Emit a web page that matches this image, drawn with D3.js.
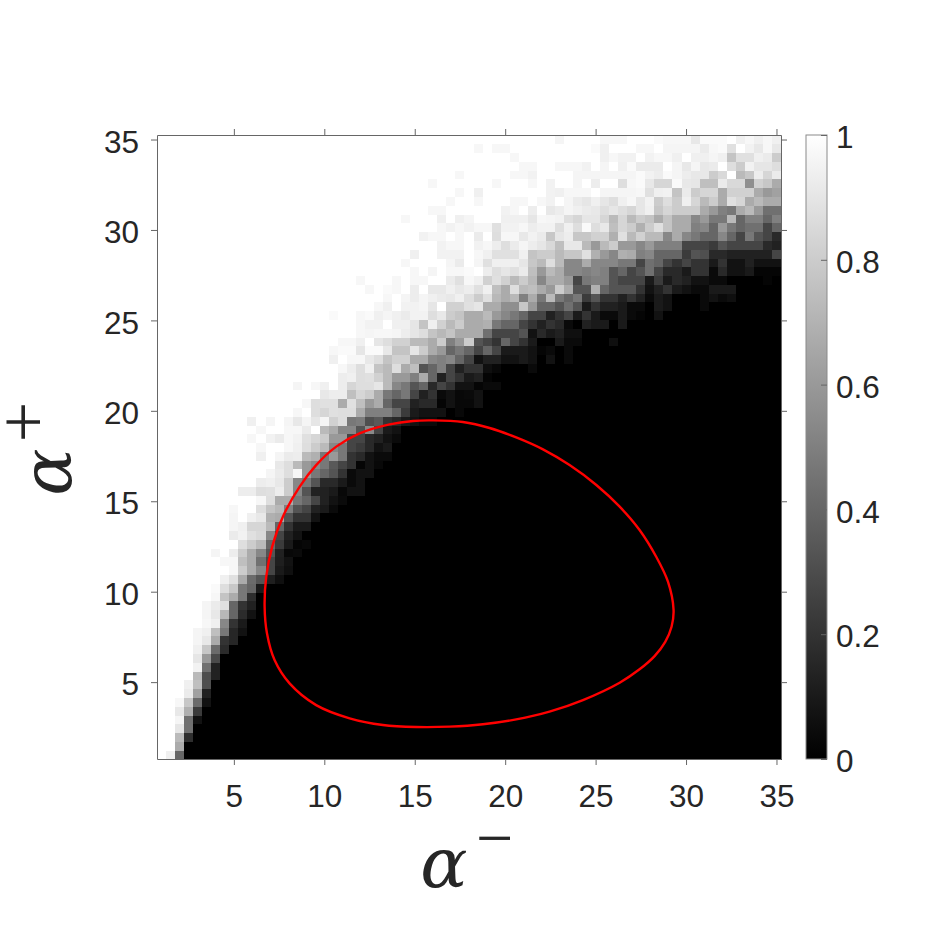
<!DOCTYPE html>
<html>
<head>
<meta charset="utf-8">
<script src="https://cdn.jsdelivr.net/npm/d3@7"></script>
<style>
  html, body { margin: 0; background: #fff; }
  text { font-family: "Liberation Sans", Arial, sans-serif; fill: #262626; }
  .symbol { font-family: "Liberation Serif", serif; }
  .alpha { font-family: "DejaVu Serif", serif; font-style: italic; }
</style>
</head>
<body>
<div id="chart"></div>
<script>
// the image has 69 columns and 71 rows stretched over the same alpha range
const colCount = 69;
const xTicks = [5,10,15,20,25,30,35];
const yTicks = [5,10,15,20,25,30,35];
const barTicks = [0,0.2,0.4,0.6,0.8,1];
const barLabels = ["0","0.2","0.4","0.6","0.8","1"];

// one line per row, bottom row first. cells left of rowStart are 100, cells after the list are 0
const rowStart = [1,2,2,2,2,2,2,3,3,4,4,4,4,4,4,5,5,5,6,6,7,8,7,6,9,8,8,8,8,11,9,11,12,13,11,11,10,11,10,15,16,18,15,19,20,19,19,20,22,22,19,24,25,23,22,28,27,28,31,29,31,27,30,32,33,30,33,40,39,35,44];
const rowPercent = [
  [94,40],
  [67],
  [73,18],
  [90,44],
  [96,44,7],
  [91,69,23],
  [97,78,42,7],
  [92,63,13],
  [94,75,31],
  [73,30,13],
  [95,44,13],
  [90,60,29],
  [94,78,42,17],
  [96,91,67,20,15],
  [96,94,75,47,15,7],
  [97,94,53,20,10],
  [96,91,72,40,17,7],
  [96,92,88,40,20,13],
  [97,77,67,47,18],
  [98,87,78,47,40,10],
  [94,88,67,42,33,12,6],
  [97,80,67,53,27,10,6],
  [97,97,75,67,44,27,12,7],
  [96,100,93,80,67,53,33,13,3,4],
  [87,80,73,40,23,10,2,3],
  [92,95,88,85,53,27,13,7],
  [96,94,84,84,73,40,20,10,10],
  [96,100,94,91,69,67,33,20,20,7],
  [97,100,100,87,77,72,50,33,27,13,10,4],
  [97,87,67,67,47,40,27,13,7,4],
  [93,93,87,88,93,80,53,33,13,13,10,3,7,7],
  [93,94,91,80,53,47,33,16,16,10,4,7],
  [96,92,87,97,60,47,40,33,20,4,7,7],
  [91,87,73,60,54,47,35,27,20,2,7,3],
  [94,100,96,92,93,73,69,47,60,47,20,16,7,4,4],
  [97,100,100,97,94,87,80,73,53,47,27,23,16,7,10],
  [97,100,95,92,97,95,88,84,80,60,60,27,27,16,13,7,4],
  [97,100,100,97,97,92,100,73,67,53,53,33,54,27,10,7],
  [94,100,96,100,96,91,96,90,96,82,87,47,49,31,35,20,16,10,7,4,4],
  [97,100,87,84,88,87,87,67,50,50,50,40,23,10,7,7,7,0,3],
  [97,87,88,88,67,88,75,60,67,40,27,27,13,16,16,2,7,3,3,7],
  [91,93,93,75,84,80,67,47,40,47,27,13,20,4,7,3,4,7],
  [96,100,97,94,100,93,84,87,87,90,73,53,47,33,40,16,27,20,7,7,2,4,4],
  [100,93,94,87,88,82,73,60,60,50,67,40,13,27,20,10,13,2],
  [97,93,87,94,77,73,87,67,75,33,40,50,27,13,20,20,6,3,0,0,0,4],
  [94,100,97,97,91,87,77,82,82,67,67,53,50,53,40,27,7,13,13,7,7,10,7,0,7,0,4],
  [97,98,98,90,98,98,91,77,77,90,80,67,60,40,47,40,27,40,27,10,10,10,7,2,4,0,4],
  [97,97,94,100,90,87,82,82,73,73,67,80,50,60,80,33,27,20,40,27,20,10,0,0,10,4,4,0,0,0,6],
  [97,96,97,97,96,93,90,87,77,72,77,67,67,67,44,27,27,27,33,7,16,10,13,6,6],
  [97,95,95,100,94,94,90,77,94,82,73,80,67,67,69,47,40,40,27,20,13,20,16,4,0,13,10,10,0,10],
  [98,100,100,97,98,94,96,94,92,95,95,87,91,80,77,67,67,73,60,53,47,40,27,27,13,20,27,10,20,10,4,4,10,4,2,0,7],
  [97,94,100,95,95,96,90,100,82,82,88,90,67,67,56,56,78,60,40,40,33,44,33,10,20,13,13,10,4,4,0,10,7,0,0,0,4],
  [97,100,96,93,96,94,92,91,94,87,80,88,72,67,72,50,67,47,73,47,40,47,23,33,20,20,13,20,13,4,10,7,0,0,0,4,7,4,6],
  [97,100,98,97,100,93,100,91,91,94,91,93,88,94,75,67,87,73,75,67,60,80,67,33,33,69,40,33,33,33,20,7,13,20,10,7,4,4,10,10,10],
  [97,100,100,100,97,100,97,97,100,100,92,88,97,94,82,88,82,73,80,72,53,67,67,60,27,47,50,50,33,27,27,27,10,23,10,16,13,7,7,4,4,0,0,0,0,2,0],
  [97,100,96,100,97,97,98,100,93,87,90,88,92,75,60,73,67,53,53,50,53,50,33,40,27,33,44,27,16,16,10,20,20,4,16,7,7,10,2,2,2],
  [97,100,100,100,100,96,92,100,96,88,94,94,94,90,78,73,87,73,53,53,67,53,53,53,47,47,27,44,40,27,20,27,20,20,10,20,7,7,13,7,7,7],
  [94,100,100,95,95,95,100,97,94,88,88,88,94,77,80,80,73,78,78,88,69,60,53,69,67,50,53,40,40,40,23,33,31,16,16,13,13,13,13,13,27],
  [95,97,97,100,95,97,93,87,92,96,93,90,85,75,91,91,73,60,73,80,60,60,53,60,50,50,50,27,27,27,23,33,27,27,27,27,16,13],
  [95,97,97,100,97,100,92,100,87,97,97,91,95,92,78,90,93,78,78,82,82,69,88,73,82,73,73,53,67,53,47,40,40,53,40,27,47,33,27,16],
  [97,95,97,95,97,97,88,95,95,97,93,95,95,87,94,87,98,87,91,75,84,80,69,80,88,77,67,67,50,53,40,60,47,40,44,44,27,40],
  [97,100,100,100,94,100,94,96,100,100,100,94,94,94,90,97,96,95,87,84,90,90,84,73,84,73,80,77,67,77,67,67,53,60,47,47,73,40,50,50,40,50],
  [97,97,100,100,100,100,100,100,95,97,100,93,100,91,93,96,94,92,91,87,90,87,84,90,94,78,84,80,80,80,67,60,50,47,67,73,60,44,44],
  [97,100,100,97,100,100,100,97,97,100,97,95,100,96,92,90,94,90,87,94,97,90,95,80,87,80,94,84,73,80,67,88,84,67,73,67,67],
  [97,100,94,100,100,100,100,100,100,100,95,94,97,97,97,100,96,96,96,96,97,88,94,95,77,92,80,84,84,67,82,82,82,67,60,63],
  [97,100,100,100,100,100,100,97,100,100,100,97,100,95,100,100,96,100,93,100,100,87,97,98,91,84,84,98,91,90,75,75,92,85,85,56,82,78,67],
  [97,100,100,100,100,100,97,97,95,100,100,100,100,96,96,96,96,96,96,96,98,95,93,98,96,93,91,91,80,85,100,73,78,93,84,92],
  [97,97,100,100,97,97,97,95,100,96,100,94,98,92,92,92,100,96,91,96,91,92,100,87,80,95,90,90,87],
  [97,100,100,100,100,100,100,100,100,100,94,97,95,95,100,95,97,97,94,100,94,94,96,94,77,88,88,94,92,80],
  [97,100,97,97,100,100,100,100,100,100,100,100,100,98,94,100,100,100,97,97,100,96,96,96,96,92,97,98,88,100,95,91,97,91],
  [96,100,100,100,100,97,97,97,100,100,100,98,97,97,97,91,98,98,98,100,94,97,94,97,94]
];

const contourX = [16,17.66,19.14,20.61,22.09,23.56,25.04,26.33,27.43,28.35,29,29.31,29.2,28.85,28.26,27.43,26.33,24.3,22.45,20.61,18.77,16.93,15.08,13.24,11.4,9.55,8.08,7.25,6.83,6.7,6.79,7.12,7.71,8.63,9.55,10.66,11.95,13.61,14.9];
const contourY = [19.47,19.38,19.05,18.53,17.87,17,15.9,14.7,13.41,11.93,10.55,8.99,8.06,7.23,6.44,5.71,4.97,4.01,3.37,2.94,2.67,2.54,2.52,2.63,3,3.73,4.93,6.22,7.7,9.17,10.83,12.49,14.15,15.8,17,18.02,18.75,19.25,19.44];

const width = 934;
const height = 934;
const margin = { top: 135, right: 153, bottom: 175, left: 157 };
const graphWidth = width - margin.left - margin.right;
const graphHeight = height - margin.top - margin.bottom;
const axisColor = "#666";

const svg = d3.select("#chart")
    .append("svg")
    .attr("width", width)
    .attr("height", height)
    .style("display", "block");
const graph = svg.append("g")
    .attr("transform", `translate(${margin.left}, ${margin.top})`);

const x = d3.scaleLinear().domain([0.75, 35.25]).range([0, graphWidth]);
const y = d3.scaleLinear().domain([0.75, 35.25]).range([graphHeight, 0]);
const colScale = d3.scaleBand().domain(d3.range(colCount)).range([0, graphWidth]);
const rowScale = d3.scaleBand().domain(d3.range(rowPercent.length)).range([graphHeight, 0]);
const gray = d3.scaleLinear().domain([0, 1]).range(["#000", "#fff"]);

const cells = [];
rowPercent.forEach((list, r) => {
    d3.range(colCount).forEach(c => {
        let p = 0;
        if (c < rowStart[r]) p = 100;
        else if (c - rowStart[r] < list.length) p = list[c - rowStart[r]];
        cells.push({ col: c, row: r, v: p / 100 });
    });
});

graph.append("g")
    .attr("shape-rendering", "crispEdges")
    .selectAll("rect")
    .data(cells)
    .enter()
    .append("rect")
    .attr("x", d => colScale(d.col))
    .attr("y", d => rowScale(d.row))
    .attr("width", colScale.bandwidth() + 0.5)
    .attr("height", rowScale.bandwidth() + 0.5)
    .attr("fill", d => gray(d.v));

const contour = d3.line()
    .x(d => x(d[0]))
    .y(d => y(d[1]))
    .curve(d3.curveCatmullRomClosed.alpha(0.5));
graph.append("path")
    .attr("d", contour(d3.zip(contourX, contourY)))
    .attr("fill", "none")
    .attr("stroke", "#f00")
    .attr("stroke-width", 2.4);

// axes, box on with outward ticks on all four sides
const styleAxis = g => {
    g.selectAll(".domain").attr("stroke", axisColor);
    g.selectAll(".tick line").attr("stroke", axisColor);
    g.selectAll("text")
        .attr("font-family", null)
        .style("font-size", "31.5px")
        .style("fill", "#262626");
};
graph.append("g")
    .attr("transform", `translate(0, ${graphHeight})`)
    .call(d3.axisBottom(x).tickValues(xTicks).tickSize(6).tickSizeOuter(0).tickPadding(20))
    .call(styleAxis);
graph.append("g")
    .call(d3.axisLeft(y).tickValues(yTicks).tickSize(6).tickSizeOuter(0).tickPadding(12))
    .call(styleAxis)
    .call(g => g.selectAll("text").attr("dy", "0.4em"));
graph.append("g")
    .call(d3.axisTop(x).tickValues(xTicks).tickSize(6).tickSizeOuter(0).tickFormat(""))
    .call(styleAxis);
graph.append("g")
    .attr("transform", `translate(${graphWidth}, 0)`)
    .call(d3.axisRight(y).tickValues(yTicks).tickSize(6).tickSizeOuter(0).tickFormat(""))
    .call(styleAxis);

// colorbar
const barX = 649;
const barWidth = 21;
const barScale = d3.scaleLinear().domain([0, 1]).range([graphHeight, 0]);
const grad = svg.append("defs").append("linearGradient")
    .attr("id", "barGrad")
    .attr("x1", 0).attr("x2", 0).attr("y1", 1).attr("y2", 0);
grad.append("stop").attr("offset", 0).attr("stop-color", gray(0));
grad.append("stop").attr("offset", 1).attr("stop-color", gray(1));
graph.append("rect")
    .attr("x", barX)
    .attr("y", 0)
    .attr("width", barWidth)
    .attr("height", graphHeight)
    .attr("fill", "url(#barGrad)")
    .attr("stroke", "#8a8a8a")
    .attr("stroke-width", 1);
graph.append("g")
    .attr("transform", `translate(${barX + barWidth}, 0)`)
    .call(d3.axisRight(barScale)
        .tickValues(barTicks)
        .tickFormat((d, i) => barLabels[i])
        .tickSize(-6)
        .tickSizeOuter(0))
    .call(styleAxis)
    .call(g => g.select(".domain").remove())
    .call(g => g.selectAll("text").attr("x", 9).attr("dy", "0.4em"));

// axis labels
svg.append("text")
    .attr("class", "alpha")
    .attr("x", 444)
    .attr("y", 887)
    .attr("text-anchor", "middle")
    .style("font-size", "70px")
    .text("α");
svg.append("text")
    .attr("class", "symbol")
    .attr("x", 494.5)
    .attr("y", 860)
    .attr("text-anchor", "middle")
    .style("font-size", "66px")
    .text("−");
svg.append("text")
    .attr("class", "alpha")
    .attr("transform", "translate(71, 472) rotate(-90)")
    .attr("text-anchor", "middle")
    .style("font-size", "70px")
    .text("α");
svg.append("text")
    .attr("class", "symbol")
    .attr("transform", "translate(47, 422) rotate(-90)")
    .attr("text-anchor", "middle")
    .style("font-size", "72px")
    .text("+");
</script>
</body>
</html>
